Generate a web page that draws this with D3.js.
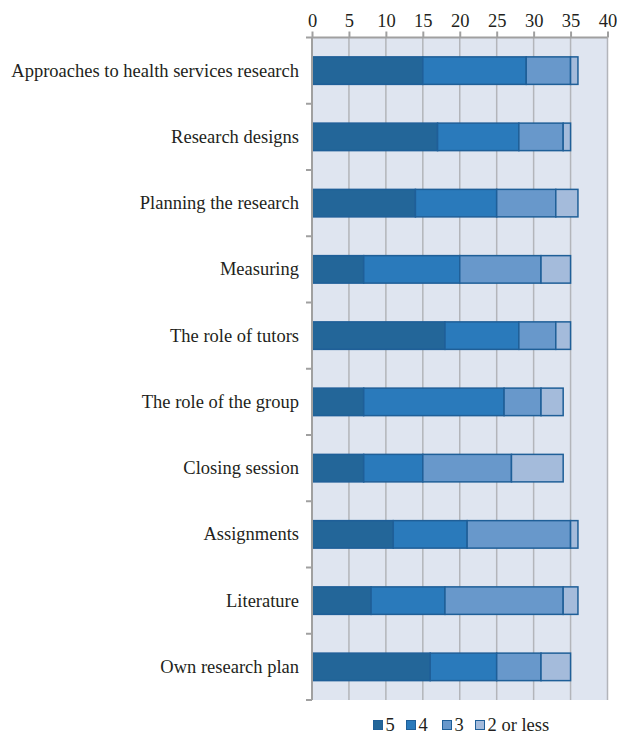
<!DOCTYPE html>
<html>
<head>
<meta charset="utf-8">
<script src="https://cdn.jsdelivr.net/npm/d3@7"></script>
<style>
  body { margin: 0; background: #fff; }
  svg text { font-family: "Liberation Serif", "Times New Roman", Times, serif; fill: #231f20; }
</style>
</head>
<body>
<div id="chart"></div>
<script>
// Kategorien von oben nach unten
const categories = [
    'Approaches to health services research',
    'Research designs',
    'Planning the research',
    'Measuring',
    'The role of tutors',
    'The role of the group',
    'Closing session',
    'Assignments',
    'Literature',
    'Own research plan'
];
const seriesNames = ['5', '4', '3', '2 or less'];
const score5 = [15, 17, 14, 7, 18, 7, 7, 11, 8, 16];
const score4 = [14, 11, 11, 13, 10, 19, 8, 10, 10, 9];
const score3 = [6, 6, 8, 11, 5, 5, 12, 14, 16, 6];
const score2 = [1, 1, 3, 4, 2, 3, 7, 1, 2, 4];
const xTicks = [0, 5, 10, 15, 20, 25, 30, 35, 40];
const colors = ['#236699', '#2a7abb', '#6898cb', '#a4bbdb'];

const FONT = '"Liberation Serif", "Times New Roman", Times, serif';
const FONT_SIZE = '18.5px';
const width = 617, height = 736;
const margin = { top: 37.5, right: 10, bottom: 36, left: 312 };

const svg = d3.select('#chart').append('svg')
    .attr('width', width)
    .attr('height', height);

const x = d3.scaleLinear().domain([0, 40]).range([margin.left, 607.5]);
const y = d3.scaleBand().domain(categories)
    .range([margin.top, height - margin.bottom])
    .paddingInner(0.585).paddingOuter(0.2925);

// Tabelle fuer d3.stack bauen
const table = categories.map((c, i) => ({
    cat: c, '5': score5[i], '4': score4[i], '3': score3[i], '2 or less': score2[i]
}));
const stacked = d3.stack().keys(seriesNames)(table);

// Hintergrund der Plotflaeche
svg.append('rect')
    .attr('x', x(0)).attr('y', margin.top)
    .attr('width', x(40) - x(0))
    .attr('height', height - margin.bottom - margin.top)
    .attr('fill', '#dfe5f0');

// Gitterlinien
svg.append('g').selectAll('line')
    .data(xTicks.slice(1))
    .enter().append('line')
    .attr('x1', d => x(d)).attr('x2', d => x(d))
    .attr('y1', margin.top).attr('y2', height - margin.bottom)
    .attr('stroke', '#b3b5ba').attr('stroke-width', 1.5);

// Balken
svg.append('g').selectAll('g')
    .data(stacked)
    .enter().append('g')
    .attr('fill', (d, i) => colors[i])
    .selectAll('rect')
    .data(d => d)
    .enter().append('rect')
    .attr('x', d => x(d[0]))
    .attr('width', d => x(d[1]) - x(d[0]))
    .attr('y', d => y(d.data.cat))
    .attr('height', y.bandwidth())
    .attr('stroke', '#1f5f98')
    .attr('stroke-width', 1.5);

// Obere Achse
const xAxis = d3.axisTop(x).tickValues(xTicks).tickSize(6).tickPadding(5);
const gx = svg.append('g')
    .attr('transform', `translate(0,${margin.top})`)
    .call(xAxis);
gx.select('.domain').remove();
gx.append('line')
    .attr('x1', x(0) - 6).attr('x2', x(40))
    .attr('stroke', '#a0a0a0').attr('stroke-width', 2);
gx.selectAll('.tick line').attr('stroke', '#a0a0a0').attr('stroke-width', 2);
gx.selectAll('.tick text')
    .style('font-family', FONT)
    .style('font-size', FONT_SIZE)
    .attr('fill', '#231f20');

// Linke Achse mit Kategorien
const yAxis = d3.axisLeft(y).tickSize(0).tickPadding(13);
const gy = svg.append('g')
    .attr('transform', `translate(${x(0)},0)`)
    .call(yAxis);
gy.select('.domain').remove();
gy.append('line')
    .attr('y1', margin.top).attr('y2', height - margin.bottom)
    .attr('stroke', '#a0a0a0').attr('stroke-width', 2);
gy.selectAll('.tick text')
    .style('font-family', FONT)
    .style('font-size', FONT_SIZE)
    .attr('fill', '#231f20');
// Striche zwischen den Kategorien
const bounds = categories.map(c => y(c) - y.step() * y.paddingOuter()).concat([height - margin.bottom]);
gy.selectAll('.sep')
    .data(bounds.slice(1))
    .enter().append('line')
    .attr('class', 'sep')
    .attr('x1', -6).attr('x2', 0)
    .attr('y1', d => d).attr('y2', d => d)
    .attr('stroke', '#a0a0a0').attr('stroke-width', 2);

// Legende
const legendX = [373, 406, 442, 475];
const legend = svg.append('g').attr('transform', 'translate(0,725)');
seriesNames.forEach((s, i) => {
    legend.append('rect')
        .attr('x', legendX[i] + 0.5).attr('y', -4.5)
        .attr('width', 9).attr('height', 9)
        .attr('fill', colors[i])
        .attr('stroke', '#1f5f98').attr('stroke-width', 1);
    legend.append('text')
        .attr('x', legendX[i] + 12.5).attr('y', 6)
        .style('font-family', FONT)
        .style('font-size', FONT_SIZE)
        .text(s);
});
</script>
</body>
</html>
